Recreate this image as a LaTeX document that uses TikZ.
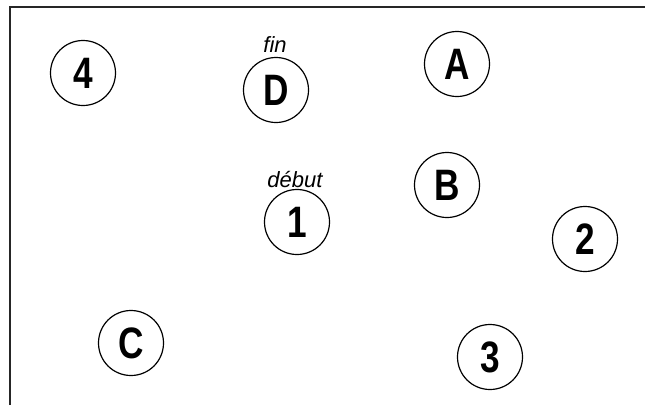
\documentclass[tikz,border=0pt]{standalone}
\usepackage{fontspec}
\newfontfamily\labfont[FakeStretch=0.8]{Liberation Sans}
\newfontfamily\notefont{Liberation Sans}
\begin{document}
\begin{tikzpicture}[x=1pt,y=-1pt,
  pt/.style={draw, circle, line width=1.2pt, minimum size=65pt, inner sep=0pt,
    font=\labfont\bfseries\fontsize{44}{44}\selectfont},
  note/.style={inner sep=0pt, font=\notefont\itshape\fontsize{22}{22}\selectfont},
  frameline/.style={line width=2pt, black!85}]
\useasboundingbox (0,0) rectangle (645,405);
\coordinate (fa) at (10,405);
\coordinate (fb) at (10,7);
\coordinate (fc) at (645,7);
\draw[frameline] (fa) -- (fb) -- (fc);
\node[pt] (n4) at (83,73) {4};
\node[pt] (nD) at (276,90) {D};
\node[pt] (nA) at (457,64) {A};
\node[pt] (nB) at (447,185) {B};
\node[pt] (n1) at (297,222) {1};
\node[pt] (n2) at (585,239) {2};
\node[pt] (nC) at (131,343) {C};
\node[pt] (n3) at (490,357) {3};
\node[note] (fin) at (275,45) {fin};
\node[note] (debut) at (295,180) {début};
\end{tikzpicture}
\end{document}
